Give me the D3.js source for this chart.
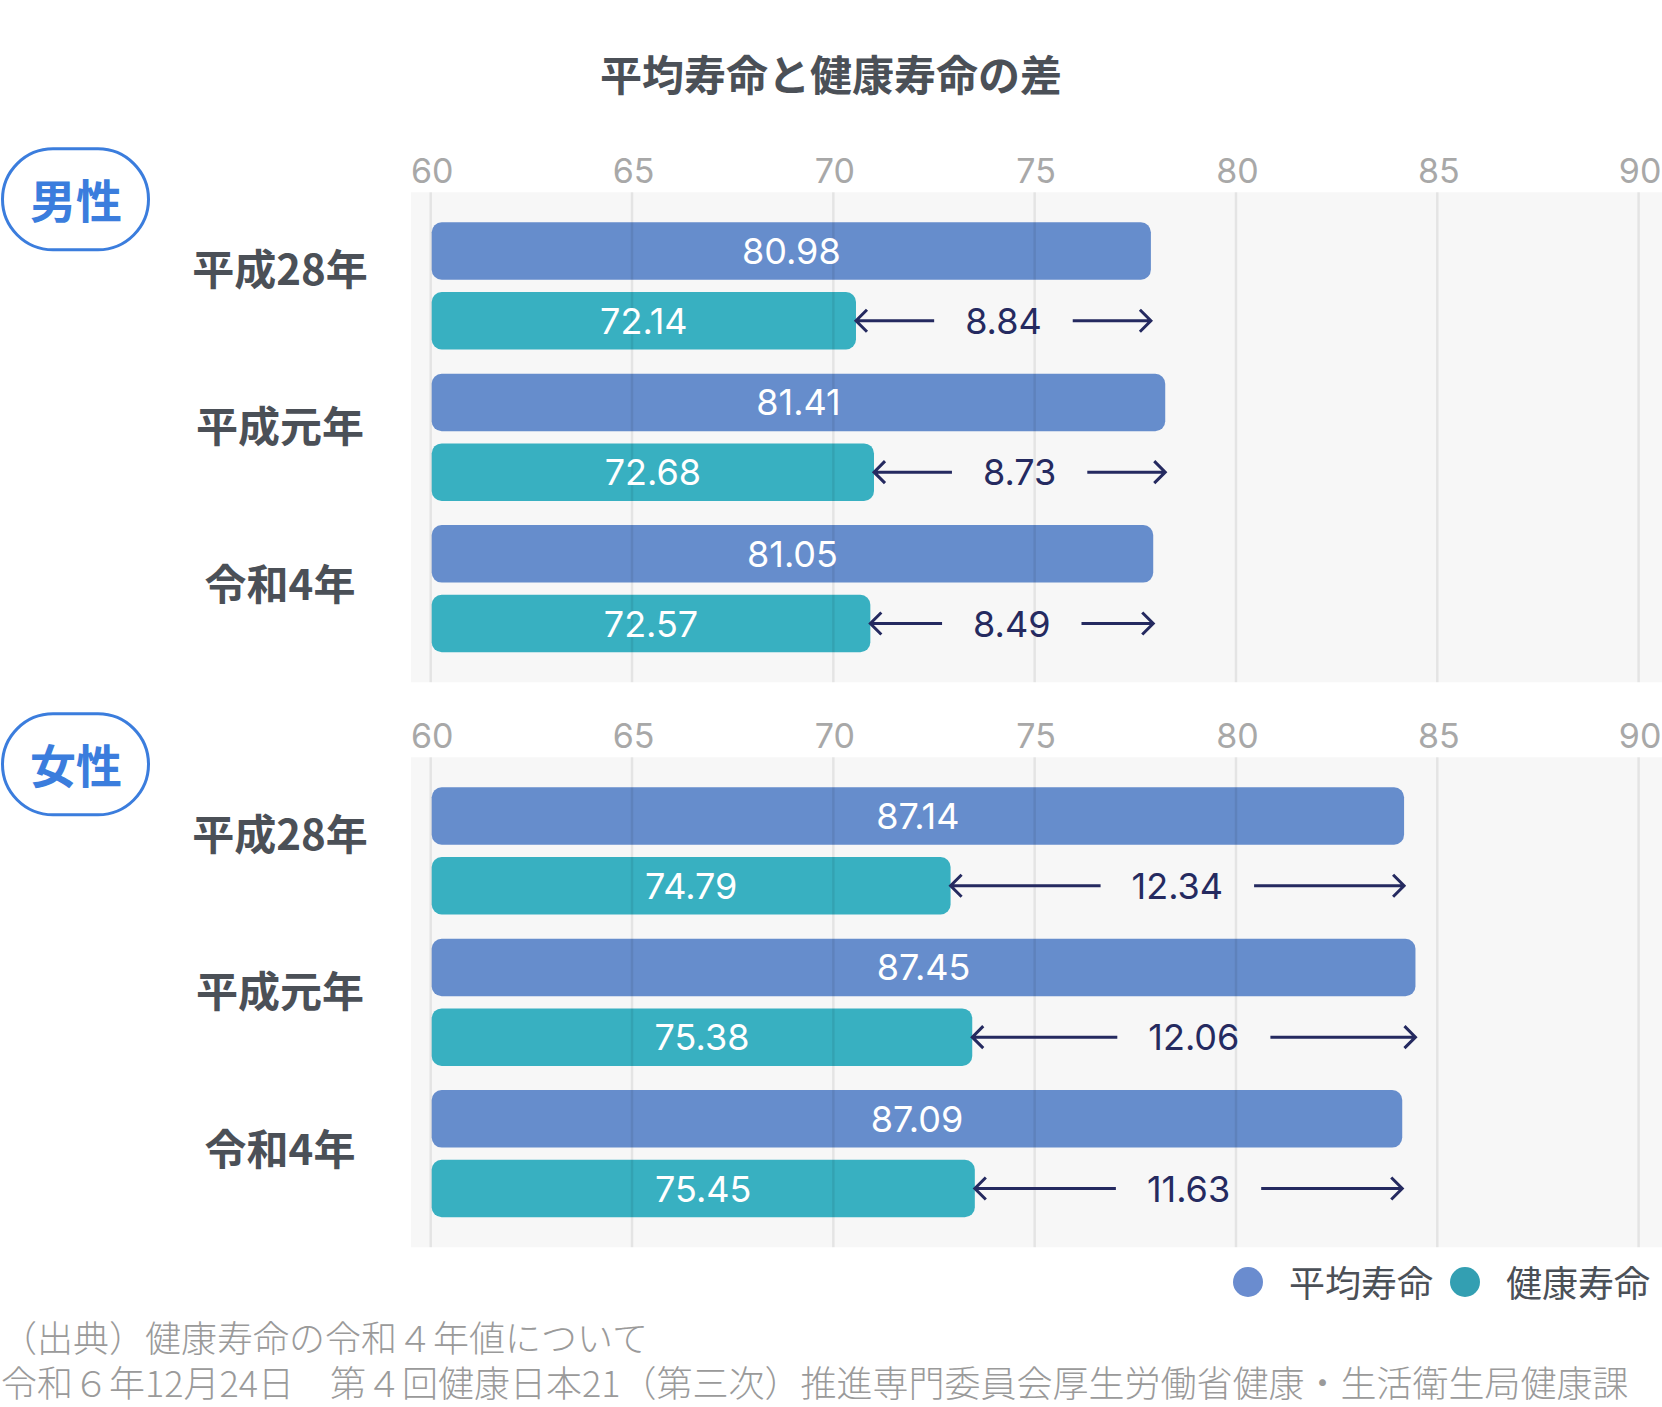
<!DOCTYPE html>
<html><head><meta charset="utf-8">
<script src="https://cdn.jsdelivr.net/npm/d3@7"></script>
<style>body{margin:0;background:#fff;} svg{display:block;}</style>
</head><body><svg id="chart" width="1662" height="1407"></svg>
<script>
// ---- data ----
const titleText = '平均寿命と健康寿命の差';
const categories = ['平成28年', '平成元年', '令和4年'];
const genders = ['男性', '女性'];
const seriesNames = ['平均寿命', '健康寿命'];
const maleAvg = [80.98, 81.41, 81.05];
const maleHealth = [72.14, 72.68, 72.57];
const maleGap = ['8.84', '8.73', '8.49'];
const femaleAvg = [87.14, 87.45, 87.09];
const femaleHealth = [74.79, 75.38, 75.45];
const femaleGap = ['12.34', '12.06', '11.63'];
const tickValues = [60, 65, 70, 75, 80, 85, 90];
const sourceLines = ['（出典）健康寿命の令和４年値について',
  '令和６年12月24日　第４回健康日本21（第三次）推進専門委員会厚生労働省健康・生活衛生局健康課'];

// ---- layout / style ----
const W = 1662, H = 1407;
const CJK = '"Noto Sans CJK JP", "Noto Sans CJK SC", sans-serif';
const NUM = 'Inter, "Noto Sans", sans-serif';
const colAvg = '#668dcc', colHealth = '#38b0c1';
const colLegAvg = '#6a8ccf', colLegHealth = '#339fb2';
const colText = '#4b5057', colNavy = '#252a60', colBlue = '#3b7ddd';

const svg = d3.select('#chart');

svg.append('text').attr('x', W / 2).attr('y', 72)
  .attr('text-anchor', 'middle').attr('dominant-baseline', 'central')
  .style('font-family', CJK).style('font-weight', 700).style('font-size', '42px')
  .attr('fill', colText).text(titleText);

const x = d3.scaleLinear().domain([60, 90]).range([430.7, 1638.6]);

const panels = [
  { name: genders[0], avg: maleAvg, health: maleHealth, gap: maleGap, top: 192.3, barRange: [451, 1451.8] },
  { name: genders[1], avg: femaleAvg, health: femaleHealth, gap: femaleGap, top: 757.3, barRange: [407.5, 1509.1] }
];

panels.forEach(p => {
  const T = p.top, PH = 490;
  const g = svg.append('g');
  g.append('rect').attr('x', 411).attr('y', T).attr('width', W - 411).attr('height', PH).attr('fill', '#f7f7f7');

  g.selectAll('text.tick').data(tickValues).join('text').attr('class', 'tick')
    .attr('x', d => x(d) + 1.5).attr('y', T - 9.6).attr('text-anchor', 'middle')
    .style('font-family', NUM).style('font-size', '34px').attr('fill', '#a8a8a8')
    .text(d => d);

  const band = d3.scaleBand().domain(categories).range([T + 30, T + 460]).paddingInner(0.16);
  const sub = d3.scaleBand().domain(['avg', 'health']).range([0, band.bandwidth()]).paddingInner(0.175);
  const bx = d3.scaleLinear().domain([60, 90]).range(p.barRange);
  const x0 = x(60) + 1;
  const bh = sub.bandwidth();

  const rows = categories.map((c, j) => ({ c, avg: p.avg[j], health: p.health[j], gap: p.gap[j] }));
  const bars = [];
  rows.forEach(r => {
    bars.push({ c: r.c, s: 'avg', v: r.avg, fill: colAvg });
    bars.push({ c: r.c, s: 'health', v: r.health, fill: colHealth });
  });

  g.selectAll('rect.bar').data(bars).join('rect').attr('class', 'bar')
    .attr('x', x0).attr('y', d => band(d.c) + sub(d.s))
    .attr('width', d => bx(d.v) - x0).attr('height', bh)
    .attr('rx', 10).attr('fill', d => d.fill);

  g.selectAll('line.grid').data(tickValues).join('line').attr('class', 'grid')
    .attr('x1', d => x(d)).attr('x2', d => x(d)).attr('y1', T).attr('y2', T + PH)
    .attr('stroke', 'rgba(0,0,0,0.075)').attr('stroke-width', 2.5);

  g.selectAll('text.val').data(bars).join('text').attr('class', 'val')
    .attr('x', d => (x0 + bx(d.v)) / 2).attr('y', d => band(d.c) + sub(d.s) + bh / 2 + 13)
    .attr('text-anchor', 'middle')
    .style('font-family', NUM).style('font-size', '36px').attr('fill', '#fff')
    .text(d => d.v.toFixed(2));

  // gap arrows
  rows.forEach(r => {
    const y = band(r.c) + sub('health') + bh / 2;
    const xa = bx(r.health), xb = bx(r.avg), mid = (xa + xb) / 2;
    const t = g.append('text').attr('x', mid).attr('y', y + 13).attr('text-anchor', 'middle')
      .style('font-family', NUM).style('font-size', '36px').attr('fill', colNavy).text(r.gap);
    const tw = t.node().getComputedTextLength();
    const gapL = mid - tw / 2 - 31, gapR = mid + tw / 2 + 31;
    const line = d3.line();
    const ah = 11;
    g.append('path').attr('d', line([[gapL, y], [xa, y]]) + line([[xa + ah, y - ah], [xa, y], [xa + ah, y + ah]]))
      .attr('fill', 'none').attr('stroke', colNavy).attr('stroke-width', 3).attr('stroke-linejoin', 'miter');
    g.append('path').attr('d', line([[gapR, y], [xb, y]]) + line([[xb - ah, y - ah], [xb, y], [xb - ah, y + ah]]))
      .attr('fill', 'none').attr('stroke', colNavy).attr('stroke-width', 3).attr('stroke-linejoin', 'miter');
  });

  // row labels
  const ly = d3.scalePoint().domain(categories).range([T + 74, T + 389]);
  g.selectAll('text.row').data(categories).join('text').attr('class', 'row')
    .attr('x', 280).attr('y', d => ly(d)).attr('text-anchor', 'middle').attr('dominant-baseline', 'central')
    .style('font-family', CJK).style('font-weight', 700).style('font-size', '42px')
    .attr('fill', colText).text(d => d);

  // gender badge
  const by = T + 7;
  g.append('rect').attr('x', 2.5).attr('y', by - 50.5).attr('width', 146).attr('height', 101).attr('rx', 50.5)
    .attr('fill', '#fff').attr('stroke', colBlue).attr('stroke-width', 3);
  g.append('text').attr('x', 76).attr('y', by - 1).attr('text-anchor', 'middle').attr('dominant-baseline', 'central')
    .style('font-family', CJK).style('font-weight', 700).style('font-size', '46px')
    .attr('fill', colBlue).text(p.name);
});

// legend
const legY = 1280.5;
const legItems = [{ n: seriesNames[0], c: colLegAvg, x: 1290 }, { n: seriesNames[1], c: colLegHealth, x: 1507 }];
const lg = svg.append('g');
lg.selectAll('circle').data(legItems).join('circle')
  .attr('cx', d => d.x - 42).attr('cy', legY + 1.5).attr('r', 15).attr('fill', d => d.c);
lg.selectAll('text').data(legItems).join('text')
  .attr('x', d => d.x - 1).attr('y', legY).attr('dominant-baseline', 'central')
  .style('font-family', CJK).style('font-size', '36px').attr('fill', colText).text(d => d.n);

// source
svg.selectAll('text.src').data(sourceLines).join('text').attr('class', 'src')
  .attr('x', 1).attr('y', (d, i) => 1336 + i * 45).attr('dominant-baseline', 'central')
  .style('font-family', CJK).style('font-weight', 300).style('font-size', '36px')
  .attr('fill', '#9a9a9a').text(d => d);
</script>
</body></html>
